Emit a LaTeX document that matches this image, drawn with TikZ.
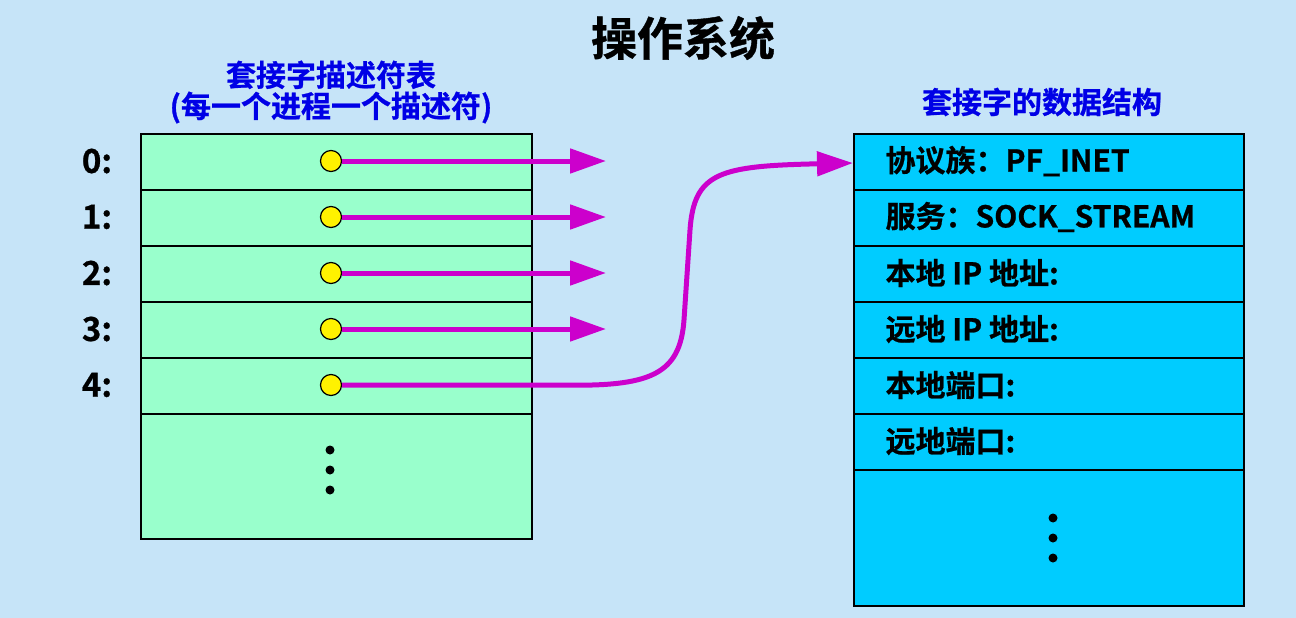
\documentclass[tikz,border=0pt]{standalone}
\usepackage{fontspec}
\setmainfont{Noto Sans CJK SC}[BoldFont={Noto Sans CJK SC Bold}, BoldFeatures={FakeBold=0.8}]
\usetikzlibrary{arrows.meta}
\definecolor{bgblue}{RGB}{198,228,248}
\definecolor{tgreen}{RGB}{153,255,204}
\definecolor{tcyan}{RGB}{0,204,255}
\definecolor{hblue}{RGB}{0,0,230}
\definecolor{mag}{RGB}{204,0,204}
\tikzset{
  cell/.style={draw=black, line width=1.5pt, minimum width=391pt, minimum height=56pt, inner sep=0pt, anchor=north west},
  gcell/.style={cell, fill=tgreen},
  bcell/.style={cell, fill=tcyan, minimum width=390pt},
  dot/.style={circle, draw=black, line width=1.2pt, fill=yellow, minimum size=21pt, inner sep=0pt},
  ptr/.style={draw=mag, line width=5pt, -{Triangle[length=36pt,width=24pt]}},
  idx/.style={font=\bfseries\fontsize{33}{36}\selectfont, anchor=center},
  fld/.style={font=\bfseries\fontsize{30}{33}\selectfont, anchor=west},
  hdr/.style={font=\bfseries\fontsize{30}{33}\selectfont, text=hblue, align=center},
  bdot/.style={circle, fill=black, minimum size=9pt, inner sep=0pt}
}
\begin{document}
\begin{tikzpicture}[x=1pt,y=-1pt]
\fill[bgblue] (0,0) rectangle (1296,618);
\useasboundingbox (0,0) rectangle (1296,618);
\node[font=\bfseries\fontsize{46}{50}\selectfont] (title) at (683,38) {操作系统};
\node[hdr] (lhdr) at (331,92) {套接字描述符表\\[-2pt](每一个进程一个描述符)};
\node[hdr] (rhdr) at (1042,102) {套接字的数据结构};
% left table
\foreach \i in {0,...,4} {
  \node[gcell] (l\i) at (140,133+56*\i) {};
}
\node[gcell, minimum height=125pt] (lrest) at (140,413) {};
\foreach \i in {0,...,4} {
  \node[idx] (n\i) at (97,161+56*\i) {\i:};
  \node[dot] (c\i) at (331,161+56*\i) {};
}
\foreach \i in {0,...,3} {
  \coordinate (e\i) at (606,161+56*\i);
  \draw[ptr] (c\i.east) -- (e\i);
}
\foreach \y in {450,470,490} \node[bdot] at (330,\y) {};
% right table
\foreach \i/\t in {0/{协议族：PF\_INET},1/{服务：SOCK\_STREAM},2/{本地 IP 地址:},3/{远地 IP 地址:},4/{本地端口:},5/{远地端口:}} {
  \node[bcell] (r\i) at (853,133+56*\i) {};
  \node[fld] (t\i) at (882,161+56*\i) {\t};
}
\node[bcell, minimum height=136pt] (rrest) at (853,469) {};
\foreach \y in {518,538,558} \node[bdot] at (1053,\y) {};
\coordinate (rin) at (853,163);
\draw[ptr] (c4.east) -- (560,385) .. controls (650,387) and (680,375) .. (684,320)
  -- (690,230) .. controls (694,172) and (720,166) .. (rin);
\end{tikzpicture}
\end{document}
